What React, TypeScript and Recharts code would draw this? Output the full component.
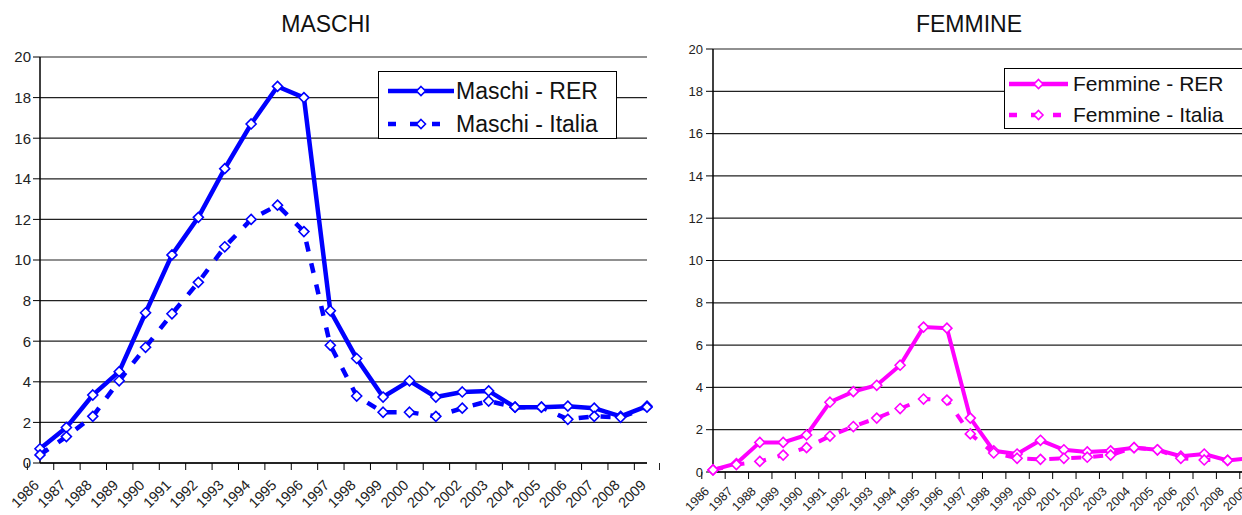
import React from 'react';
import { LineChart, Line, XAxis, YAxis, CartesianGrid, Legend } from 'recharts';

const years = ['1986', '1987', '1988', '1989', '1990', '1991', '1992', '1993', '1994', '1995', '1996', '1997',
  '1998', '1999', '2000', '2001', '2002', '2003', '2004', '2005', '2006', '2007', '2008', '2009'];

const maschiRER = [0.7, 1.75, 3.35, 4.5, 7.4, 10.25, 12.1, 14.5, 16.7, 18.55, 18.0, 7.5,
  5.15, 3.25, 4.05, 3.25, 3.5, 3.55, 2.75, 2.75, 2.8, 2.7, 2.3, 2.8];
const maschiItalia = [0.4, 1.3, 2.3, 4.05, 5.7, 7.35, 8.9, 10.65, 12.0, 12.7, 11.4, 5.8,
  3.3, 2.5, 2.5, 2.3, 2.7, 3.05, 2.75, 2.75, 2.15, 2.3, 2.25, 2.75];

const femmineRER = [0.1, 0.4, 1.4, 1.4, 1.75, 3.3, 3.8, 4.1, 5.05, 6.85, 6.8, 2.55,
  1.0, 0.85, 1.5, 1.05, 0.95, 1.0, 1.15, 1.05, 0.75, 0.85, 0.55, 0.65];
const femmineItalia = [0.1, 0.35, 0.5, 0.8, 1.15, 1.7, 2.15, 2.55, 3.0, 3.45, 3.4, 1.8,
  0.9, 0.65, 0.6, 0.65, 0.7, 0.8, 1.15, 1.05, 0.65, 0.57, 0.55, 0.65];

const yTicks = [0, 2, 4, 6, 8, 10, 12, 14, 16, 18, 20];

const maschiData = years.map((y, i) => ({ year: y, rer: maschiRER[i], italia: maschiItalia[i] }));
const femmineData = years.map((y, i) => ({ year: y, rer: femmineRER[i], italia: femmineItalia[i] }));

const FONT = '"Liberation Sans", Arial, sans-serif';
const DASH = '10 12';

function Diamond(props: any) {
  const { cx, cy, stroke, size = 5 } = props;
  if (cx == null || cy == null) return null;
  const r = size;
  const pts = `${cx},${cy - r} ${cx + r},${cy} ${cx},${cy + r} ${cx - r},${cy}`;
  return <polygon points={pts} fill="#fff" stroke={stroke} strokeWidth={1.6} />;
}

// year labels, with tick marks placed between categories like Excel does
function YearTick(props: any) {
  const { x, y, payload, index, band, fontSize, dx, dy, count } = props;
  const lx = x + dx;
  const ly = y + dy;
  return (
    <g>
      <line x1={x - band / 2} x2={x - band / 2} y1={y} y2={y + 7} stroke="#000" />
      {index === count - 1 && <line x1={x + band / 2} x2={x + band / 2} y1={y} y2={y + 7} stroke="#000" />}
      <text x={lx} y={ly} textAnchor="end" fontSize={fontSize} fill="#222" fontFamily={FONT}
        transform={`rotate(-45 ${lx} ${ly})`}>{payload.value}</text>
    </g>
  );
}

function LegendBox(props: any) {
  const { color, names, fontSize, width, height, rowY, lineX0, lineX1, textX } = props;
  return (
    <div style={{ position: 'relative', width, height, border: '1.5px solid #000', background: '#fff', boxSizing: 'border-box', fontFamily: FONT }}>
      {names.map((n: string, i: number) => (
        <div key={n} style={{ position: 'absolute', left: 0, top: rowY[i] - 15, height: 30, width: '100%' }}>
          <svg width={lineX1 + 4} height={30} style={{ position: 'absolute', left: 0, top: 0 }}>
            <line x1={lineX0} x2={lineX1} y1={15} y2={15} stroke={color} strokeWidth={4.5}
              strokeDasharray={i === 1 ? '8 14' : undefined} />
            <Diamond cx={(lineX0 + lineX1) / 2} cy={15} stroke={color} size={4.5} />
          </svg>
          <span style={{ position: 'absolute', left: textX, top: 0, lineHeight: '30px', fontSize, color: '#111', whiteSpace: 'nowrap' }}>{n}</span>
        </div>
      ))}
    </div>
  );
}

export default function App() {
  const leftBand = 607 / years.length;
  const rightBand = 538 / years.length;
  return (
    <div style={{ position: 'fixed', left: 0, top: 0, width: 1242, height: 515, overflow: 'hidden', background: '#fff', fontFamily: FONT }}>
      <div style={{ position: 'absolute', left: 226, width: 200, top: 11, textAlign: 'center', fontSize: 23, lineHeight: '26px', color: '#111' }}>MASCHI</div>
      <div style={{ position: 'absolute', left: 869, width: 200, top: 11, textAlign: 'center', fontSize: 23, lineHeight: '26px', color: '#111' }}>FEMMINE</div>

      <div style={{ position: 'absolute', left: 0, top: 0 }}>
        <LineChart width={660} height={515} data={maschiData} margin={{ top: 57, right: 13, bottom: 22, left: 0 }}>
          <CartesianGrid vertical={false} stroke="#222" strokeWidth={1.2} />
          <XAxis dataKey="year" height={30} interval={0} tickLine={false} tickSize={0} tickMargin={0} axisLine={{ stroke: '#000', strokeWidth: 1.5 }}
            tick={<YearTick band={leftBand} fontSize={14.5} dx={0} dy={23} count={years.length} />} />
          <YAxis width={40} domain={[0, 20]} ticks={yTicks} interval={0} tickSize={7} tickMargin={2}
            tickLine={{ stroke: '#000' }} axisLine={{ stroke: '#000', strokeWidth: 1.5 }}
            tick={{ fontSize: 15, fill: '#222', fontFamily: FONT }} />
          <Legend layout="horizontal" verticalAlign="middle" align="center" content={() => (
            <LegendBox color="#0000ff" names={['Maschi - RER', 'Maschi - Italia']} fontSize={23}
              width={239} height={68} rowY={[19, 52]} lineX0={9} lineX1={75} textX={77} />
          )} wrapperStyle={{ left: 378, top: 71, width: 239, height: 68 }} />
          <Line dataKey="rer" name="Maschi - RER" stroke="#0000ff" strokeWidth={4.5} isAnimationActive={false}
            dot={(p: any) => <Diamond key={`mr${p.index}`} {...p} />} activeDot={false} />
          <Line dataKey="italia" name="Maschi - Italia" stroke="#0000ff" strokeWidth={4.5} strokeDasharray={DASH} isAnimationActive={false}
            dot={(p: any) => <Diamond key={`mi${p.index}`} {...p} />} activeDot={false} />
        </LineChart>
      </div>

      <div style={{ position: 'absolute', left: 661, top: 0 }}>
        <LineChart width={600} height={515} data={femmineData} margin={{ top: 49, right: 10, bottom: 13, left: 0 }}>
          <CartesianGrid vertical={false} stroke="#222" strokeWidth={1.2} />
          <XAxis dataKey="year" height={30} interval={0} tickLine={false} tickSize={0} tickMargin={0} axisLine={{ stroke: '#000', strokeWidth: 1.5 }}
            tick={<YearTick band={rightBand} fontSize={12.5} dx={-3} dy={20} count={years.length} />} />
          <YAxis width={52} domain={[0, 20]} ticks={yTicks} interval={0} tickSize={7} tickMargin={3}
            tickLine={{ stroke: '#000' }} axisLine={{ stroke: '#000', strokeWidth: 1.5 }}
            tick={{ fontSize: 13, fill: '#222', fontFamily: FONT }} />
          <Legend layout="horizontal" verticalAlign="middle" align="center" content={() => (
            <LegendBox color="#ff00ff" names={['Femmine - RER', 'Femmine - Italia']} fontSize={21}
              width={242} height={61} rowY={[15, 46]} lineX0={4} lineX1={63} textX={68} />
          )} wrapperStyle={{ left: 343, top: 68, width: 242, height: 61 }} />
          <Line dataKey="rer" name="Femmine - RER" stroke="#ff00ff" strokeWidth={4} isAnimationActive={false}
            dot={(p: any) => <Diamond key={`fr${p.index}`} {...p} />} activeDot={false} />
          <Line dataKey="italia" name="Femmine - Italia" stroke="#ff00ff" strokeWidth={4} strokeDasharray={DASH} isAnimationActive={false}
            dot={(p: any) => <Diamond key={`fi${p.index}`} {...p} />} activeDot={false} />
        </LineChart>
      </div>
    </div>
  );
}
